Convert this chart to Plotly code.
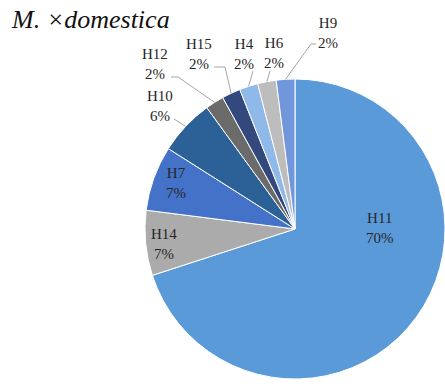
import math
import plotly.graph_objects as go

W, H = 445, 386

# Haplotype frequencies (%) in M. ×domestica, clockwise from 12 o'clock
haplotypes = ["H11", "H14", "H7", "H10", "H12", "H15", "H4", "H6", "H9"]
shares = [70, 7, 7, 6, 2, 2, 2, 2, 2]
colors = ["#5B9AD8", "#ABABAB", "#4472C8", "#2B6197", "#6B6B6B",
          "#33497E", "#8EB9E8", "#BDBDBD", "#7196DC"]

SERIF = "Liberation Serif, Times New Roman, serif"

# Pie placement in pixels
CX, CY, R = 295, 229, 150

# Label block centres (px) and leader-line elbows (px) for outside labels
label_pos = {
    "H11": (380, 228), "H14": (164, 244), "H7": (176, 183),
    "H10": (160, 106), "H12": (155, 64), "H15": (199, 54),
    "H4": (244, 54), "H6": (274, 53), "H9": (328, 33),
}
leader_elbows = {
    "H10": [(174, 119)],
    "H12": [(171, 77), (178, 77)],
    "H15": [(214, 67), (225, 67)],
    "H4": [(253, 71)],
    "H6": [(270, 71)],
    "H9": [(316, 44), (311, 44)],
}


def to_paper(x, y):
    return x / W, 1 - y / H


total = sum(shares)

fig = go.Figure(
    go.Pie(
        labels=haplotypes,
        values=shares,
        sort=False,
        direction="clockwise",
        rotation=0,
        marker=dict(colors=colors, line=dict(color="white", width=1)),
        textinfo="none",
        hoverinfo="label+percent",
        showlegend=False,
        domain=dict(x=[(CX - R) / W, (CX + R) / W],
                    y=[1 - (CY + R) / H, 1 - (CY - R) / H]),
    )
)

annotations = []
shapes = []
cum = 0.0
for lab, val in zip(haplotypes, shares):
    mid = (cum + val / 2) / total * 2 * math.pi
    cum += val
    pct = round(100 * val / total)
    lx, ly = label_pos[lab]
    ax, ay = to_paper(lx, ly)
    annotations.append(dict(
        x=ax, y=ay, xref="paper", yref="paper", showarrow=False,
        xanchor="center", yanchor="middle", align="center",
        text=f"{lab}<br>{pct}%",
        font=dict(family=SERIF, size=15, color="#262626"),
    ))
    if lab in leader_elbows:
        ex = CX + R * math.sin(mid)
        ey = CY - R * math.cos(mid)
        pts = leader_elbows[lab] + [(ex, ey)]
        path = ""
        for i, (x, y) in enumerate(pts):
            px, py = to_paper(x, y)
            path += ("M" if i == 0 else " L") + f" {px:.5f} {py:.5f}"
        shapes.append(dict(type="path", path=path, xref="paper", yref="paper",
                           line=dict(color="#A6A6A6", width=1)))

tx, ty = to_paper(9, 20)
annotations.append(dict(
    x=tx, y=ty, xref="paper", yref="paper", showarrow=False,
    xanchor="left", yanchor="middle",
    text="M. ×domestica",
    font=dict(family=SERIF, size=26, color="#111111", style="italic"),
))

fig.update_layout(
    width=W, height=H,
    margin=dict(l=0, r=0, t=0, b=0),
    paper_bgcolor="white", plot_bgcolor="white",
    annotations=annotations, shapes=shapes,
)

fig.write_html("out.html")
